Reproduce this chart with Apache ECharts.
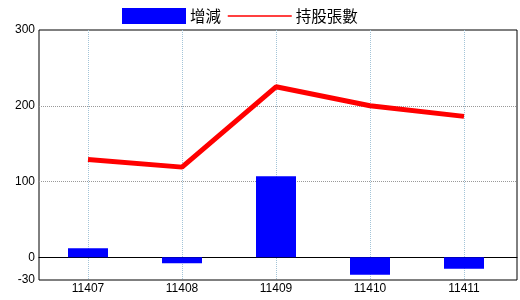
<!DOCTYPE html>
<html><head><meta charset="utf-8">
<script src="https://cdn.jsdelivr.net/npm/echarts@6/dist/echarts.min.js"></script>
<style>html,body{margin:0;padding:0;background:#fff}#c{width:520px;height:300px}</style>
</head><body><div id="c"></div>
<script>
const categories = ['11407','11408','11409','11410','11411'];
const changeValues = [12, -8, 107, -23, -15];
const holdingValues = [129, 119, 225, 200, 186];
const yTicks = [-30, 0, 100, 200, 300];
const seriesNames = ['增減', '持股張數'];

const chart = echarts.init(document.getElementById('c'), null, {renderer: 'canvas'});
const font = 'Liberation Sans, Arial, sans-serif';
chart.setOption({
  animation: false,
  backgroundColor: '#fff',
  legend: {
    left: 117, top: 3,
    itemWidth: 64, itemHeight: 16, itemGap: 6,
    textStyle: {fontSize: 15.5, color: '#000', fontFamily: 'Noto Sans CJK TC', padding: [0,0,0,-1]},
    data: [
      {name: seriesNames[0], icon: 'rect'},
      {name: seriesNames[1], itemStyle: {opacity: 0}, lineStyle: {width: 1.5, color: '#ff0000'}}
    ]
  },
  grid: [
    {left: 41, right: 9, top: 30, bottom: 20},
    {left: 39, right: 3, top: 30, bottom: 20, show: true, borderColor: '#000', borderWidth: 1, backgroundColor: 'transparent'}
  ],
  xAxis: [
    {type: 'category', gridIndex: 0, data: categories, boundaryGap: true,
     axisLine: {show: false, onZero: false}, axisTick: {show: false},
     axisLabel: {color: '#000', fontSize: 12, fontFamily: font, margin: 3},
     splitLine: {show: true, alignWithLabel: true, lineStyle: {color: '#a3c4d8', type: [1,1], width: 1}}},
    {type: 'value', gridIndex: 1, min: 0, max: 1,
     axisLine: {show: true, onZero: true, lineStyle: {color: '#000', width: 1}},
     axisTick: {show: false}, axisLabel: {show: false}, splitLine: {show: false}}
  ],
  yAxis: [
    {type: 'value', gridIndex: 0, min: -30, max: 300, show: false, splitLine: {show: false}},
    {type: 'value', gridIndex: 1, min: -30, max: 300,
     axisLine: {show: false},
     axisTick: {show: false, customValues: yTicks},
     axisLabel: {customValues: yTicks, color: '#000', fontSize: 12, fontFamily: font, margin: 4},
     splitLine: {show: true, showMinLine: false, showMaxLine: false, lineStyle: {color: '#999', type: [1,1], width: 1}}}
  ],
  series: [
    {name: seriesNames[0], type: 'bar', xAxisIndex: 0, yAxisIndex: 0, data: changeValues,
     barWidth: 40, itemStyle: {color: '#0000ff'}},
    {name: seriesNames[1], type: 'line', xAxisIndex: 0, yAxisIndex: 0, data: holdingValues,
     symbol: 'none', lineStyle: {color: '#ff0000', width: 5}, itemStyle: {color: '#ff0000'}, z: 3}
  ]
});
</script></body></html>
